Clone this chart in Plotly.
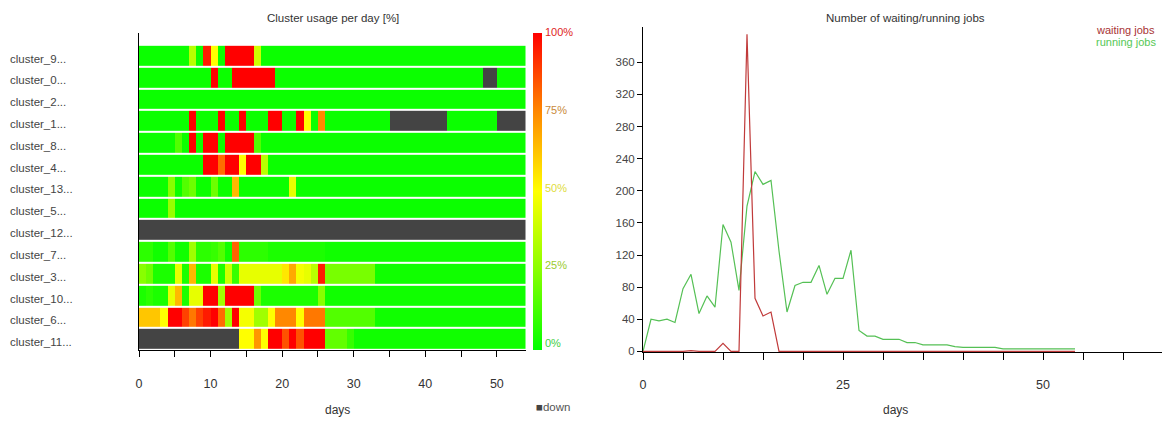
import plotly.graph_objects as go

# page body has an 8px margin; keep the figure inside the 1170x425 window
OFF = 8
W, H = 1170 - 2 * OFF, 425 - 2 * OFF
FONT = "Liberation Sans, Arial, sans-serif"

# ---------------- data ----------------
clusters = ["cluster_9...", "cluster_0...", "cluster_2...", "cluster_1...", "cluster_8...",
            "cluster_4...", "cluster_13...", "cluster_5...", "cluster_12...", "cluster_7...",
            "cluster_3...", "cluster_10...", "cluster_6...", "cluster_11..."]
N = None  # cluster down

days_heat = list(range(54))

usage_cluster_9 = [2, 2, 2, 2, 2, 2, 2, 35, 2, 95,
                   50, 2, 100, 100, 100, 100, 40, 2, 2, 2,
                   2, 2, 2, 2, 2, 2, 2, 2, 2, 2,
                   2, 2, 2, 2, 2, 2, 2, 2, 2, 2,
                   2, 2, 2, 2, 2, 2, 2, 2, 2, 2,
                   2, 2, 2, 2]
usage_cluster_0 = [2, 2, 2, 2, 2, 2, 2, 2, 2, 2,
                   100, 2, 2, 100, 100, 100, 100, 100, 100, 2,
                   2, 2, 2, 2, 2, 2, 2, 2, 2, 2,
                   2, 2, 2, 2, 2, 2, 2, 2, 2, 2,
                   2, 2, 2, 2, 2, 2, 2, 2, N, N,
                   2, 2, 2, 2]
usage_cluster_2 = [2, 2, 2, 2, 2, 2, 2, 2, 2, 2,
                   2, 2, 2, 2, 2, 2, 2, 2, 2, 2,
                   2, 2, 2, 2, 2, 2, 2, 2, 2, 2,
                   2, 2, 2, 2, 2, 2, 2, 2, 2, 2,
                   2, 2, 2, 2, 2, 2, 2, 2, 2, 2,
                   2, 2, 2, 2]
usage_cluster_1 = [2, 2, 2, 2, 2, 2, 2, 100, 2, 2,
                   2, 100, 2, 2, 100, 2, 2, 2, 100, 100,
                   2, 2, 100, 50, 2, 75, 2, 2, 2, 2,
                   2, 2, 2, 2, 2, N, N, N, N, N,
                   N, N, N, 2, 2, 2, 2, 2, 2, 2,
                   N, N, N, N]
usage_cluster_8 = [2, 2, 2, 2, 2, 15, 2, 100, 2, 100,
                   100, 2, 100, 100, 100, 100, 15, 2, 2, 2,
                   2, 2, 2, 2, 2, 2, 2, 2, 2, 2,
                   2, 2, 2, 2, 2, 2, 2, 2, 2, 2,
                   2, 2, 2, 2, 2, 2, 2, 2, 2, 2,
                   2, 2, 2, 2]
usage_cluster_4 = [2, 2, 2, 2, 2, 2, 2, 2, 2, 100,
                   100, 80, 100, 100, 50, 100, 100, 35, 2, 2,
                   2, 2, 2, 2, 2, 2, 2, 2, 2, 2,
                   2, 2, 2, 2, 2, 2, 2, 2, 2, 2,
                   2, 2, 2, 2, 2, 2, 2, 2, 2, 2,
                   2, 2, 2, 2]
usage_cluster_13 = [2, 2, 2, 2, 25, 2, 15, 20, 2, 2,
                    20, 2, 2, 65, 2, 2, 2, 2, 2, 2,
                    2, 45, 2, 2, 2, 2, 2, 2, 2, 2,
                    2, 2, 2, 2, 2, 2, 2, 2, 2, 2,
                    2, 2, 2, 2, 2, 2, 2, 2, 2, 2,
                    2, 2, 2, 2]
usage_cluster_5 = [2, 2, 2, 2, 28, 2, 2, 2, 2, 2,
                   2, 2, 2, 2, 2, 2, 2, 2, 2, 2,
                   2, 2, 2, 2, 2, 2, 2, 2, 2, 2,
                   2, 2, 2, 2, 2, 2, 2, 2, 2, 2,
                   2, 2, 2, 2, 2, 2, 2, 2, 2, 2,
                   2, 2, 2, 2]
usage_cluster_12 = [N, N, N, N, N, N, N, N, N, N,
                    N, N, N, N, N, N, N, N, N, N,
                    N, N, N, N, N, N, N, N, N, N,
                    N, N, N, N, N, N, N, N, N, N,
                    N, N, N, N, N, N, N, N, N, N,
                    N, N, N, N]
usage_cluster_7 = [8, 8, 3, 3, 15, 3, 3, 30, 8, 8,
                   10, 15, 3, 82, 8, 8, 8, 8, 5, 5,
                   5, 5, 5, 5, 5, 5, 3, 3, 3, 3,
                   3, 3, 3, 3, 3, 3, 3, 3, 3, 3,
                   3, 3, 3, 3, 3, 3, 3, 3, 3, 3,
                   3, 3, 3, 3]
usage_cluster_3 = [25, 20, 5, 5, 5, 45, 5, 65, 5, 5,
                   45, 5, 40, 10, 45, 45, 45, 45, 45, 45,
                   55, 68, 48, 45, 35, 95, 22, 22, 22, 22,
                   22, 22, 22, 3, 3, 3, 3, 3, 3, 3,
                   3, 3, 3, 3, 3, 3, 3, 3, 3, 3,
                   3, 3, 3, 3]
usage_cluster_10 = [5, 8, 5, 5, 45, 65, 5, 45, 45, 100,
                    100, 30, 100, 100, 100, 100, 20, 5, 5, 5,
                    5, 5, 5, 5, 5, 25, 3, 3, 3, 3,
                    3, 3, 3, 3, 3, 3, 3, 3, 3, 3,
                    3, 3, 3, 3, 3, 3, 3, 3, 3, 3,
                    3, 3, 3, 3]
usage_cluster_6 = [62, 62, 62, 50, 100, 100, 88, 78, 88, 95,
                   100, 80, 30, 100, 48, 48, 30, 30, 50, 75,
                   75, 75, 50, 78, 78, 78, 15, 15, 15, 15,
                   15, 15, 15, 3, 3, 3, 3, 3, 3, 3,
                   3, 3, 3, 3, 3, 3, 3, 3, 3, 3,
                   3, 3, 3, 3]
usage_cluster_11 = [N, N, N, N, N, N, N, N, N, N,
                    N, N, N, N, 50, 50, 72, 50, 100, 100,
                    85, 100, 85, 100, 100, 100, 18, 18, 18, 10,
                    3, 3, 3, 3, 3, 3, 3, 3, 3, 3,
                    3, 3, 3, 3, 3, 3, 3, 3, 3, 3,
                    3, 3, 3, 3]

usage_rows = [usage_cluster_9, usage_cluster_0, usage_cluster_2, usage_cluster_1,
              usage_cluster_8, usage_cluster_4, usage_cluster_13, usage_cluster_5,
              usage_cluster_12, usage_cluster_7, usage_cluster_3, usage_cluster_10,
              usage_cluster_6, usage_cluster_11]

days_line = list(range(55))
waiting_jobs = [0, 0, 0, 0, 0, 0, 1, 0, 0, 0,
                10, 0, 0, 395, 66, 44, 49, 0, 0, 0,
                0, 0, 0, 0, 0, 0, 0, 0, 0, 0,
                0, 0, 0, 0, 0, 0, 0, 0, 0, 0,
                0, 0, 0, 0, 0, 0, 0, 0, 0, 0,
                0, 0, 0, 0, 0]
running_jobs = [0, 40, 38, 40, 36, 78, 96, 47, 69, 55,
                158, 136, 76, 181, 224, 208, 213, 125, 49, 82,
                86, 86, 107, 71, 91, 91, 126, 26, 19, 19,
                15, 15, 15, 11, 11, 8, 8, 8, 8, 6,
                5, 5, 5, 5, 5, 3, 3, 3, 3, 3,
                3, 3, 3, 3, 3]

heat_xticks = list(range(0, 51, 5))
line_xticks = list(range(0, 65, 5))
line_yticks = list(range(0, 361, 40))
cbar_labels = ["100%", "75%", "50%", "25%", "0%"]
cbar_label_colors = ["#e02424", "#c98a3a", "#e0dc3a", "#9acb2f", "#3fcf3f"]


def px(x):
    return (x - OFF) / W


def py(y):
    return 1 - (y - OFF) / H


z_usage = [[v for v in row] for row in usage_rows]
z_down = [[1 if v is None else None for v in row] for row in usage_rows]
x_cells = [d + 0.5 for d in days_heat]

fig = go.Figure()

fig.add_trace(go.Heatmap(
    z=z_usage, x=x_cells, y=clusters, xaxis="x", yaxis="y",
    zmin=0, zmax=100, ygap=2, hoverongaps=False,
    colorscale=[[0.0, "#00ff00"], [0.25, "#88ff00"], [0.5, "#ffff00"],
                [0.75, "#ff8800"], [1.0, "#ff0000"]],
    colorbar=dict(x=px(533), xanchor="left", y=py(33), yanchor="top",
                  len=317, lenmode="pixels", thickness=9, thicknessmode="pixels",
                  outlinewidth=0, showticklabels=False, ticks="", xpad=0, ypad=0),
))
fig.add_trace(go.Heatmap(
    z=z_down, x=x_cells, y=clusters, xaxis="x", yaxis="y",
    zmin=0, zmax=1, ygap=2, showscale=False, hoverongaps=False,
    colorscale=[[0, "#444444"], [1, "#444444"]],
))

fig.add_trace(go.Scatter(
    x=days_line, y=running_jobs, mode="lines", xaxis="x2", yaxis="y2",
    line=dict(color="#55c055", width=1.2), showlegend=False, name="running jobs"))
fig.add_trace(go.Scatter(
    x=days_line, y=waiting_jobs, mode="lines", xaxis="x2", yaxis="y2",
    line=dict(color="#c03a3a", width=1.2), showlegend=False, name="waiting jobs"))

axis_font = dict(family=FONT, size=12.5, color="#333333")
x2_end = 1170 - OFF

fig.update_layout(
    width=W, height=H, margin=dict(l=0, r=0, t=0, b=0, autoexpand=False),
    paper_bgcolor="white", plot_bgcolor="white",
    font=dict(family=FONT, size=12, color="#333333"),
    xaxis=dict(domain=[px(139), px(525.5)], range=[0, 54], showgrid=False, zeroline=False,
               showline=True, linecolor="black", linewidth=1,
               tickvals=heat_xticks,
               ticktext=[str(t) if t % 10 == 0 else "" for t in heat_xticks],
               ticks="outside", ticklen=6, tickcolor="black", tickfont=axis_font,
               ticklabelstandoff=16),
    yaxis=dict(domain=[py(350), py(33)], range=[13.5, -1.04], showgrid=False, zeroline=False,
               showline=True, linecolor="black", linewidth=1, showticklabels=False, ticks=""),
    xaxis2=dict(domain=[px(643), 1.0], range=[0, (x2_end - 643) / 8.0], showgrid=False,
                zeroline=False, showline=True, linecolor="black", linewidth=1, anchor="y2",
                tickvals=line_xticks,
                ticktext=[str(t) if t % 25 == 0 else "" for t in line_xticks],
                ticks="outside", ticklen=7, tickcolor="black", tickfont=axis_font,
                ticklabelstandoff=14, layer="below traces"),
    yaxis2=dict(domain=[py(352), py(27)], range=[-0.8, 404], showgrid=False, zeroline=False,
                showline=True, linecolor="black", linewidth=1, anchor="x2",
                tickvals=line_yticks, ticks="outside", ticklen=5, tickcolor="black",
                tickfont=dict(family=FONT, size=11.5, color="#444444"), layer="below traces"),
)

ann = []
for name in clusters:
    ann.append(dict(x=px(8), xref="paper", y=name, yref="y", text=name, showarrow=False,
                    xanchor="left", yanchor="middle", yshift=-3,
                    font=dict(family=FONT, size=11.5, color="#444444")))
cb_y = [32, 110, 188, 265, 343]
for lab, col, yy in zip(cbar_labels, cbar_label_colors, cb_y):
    ann.append(dict(x=px(543), xref="paper", y=py(yy), yref="paper", text=lab, showarrow=False,
                    xanchor="left", yanchor="middle", font=dict(family=FONT, size=11, color=col)))
ann += [
    dict(x=px(333), y=py(18), xref="paper", yref="paper", text="Cluster usage per day [%]",
         showarrow=False, xanchor="center", yanchor="middle",
         font=dict(family=FONT, size=11.5, color="#333333")),
    dict(x=px(905), y=py(18), xref="paper", yref="paper", text="Number of waiting/running jobs",
         showarrow=False, xanchor="center", yanchor="middle",
         font=dict(family=FONT, size=11.5, color="#333333")),
    dict(x=px(337), y=py(410), xref="paper", yref="paper", text="days", showarrow=False,
         xanchor="center", yanchor="middle", font=dict(family=FONT, size=12, color="#333333")),
    dict(x=px(895), y=py(410), xref="paper", yref="paper", text="days", showarrow=False,
         xanchor="center", yanchor="middle", font=dict(family=FONT, size=12, color="#333333")),
    dict(x=px(534), y=py(407), xref="paper", yref="paper",
         text="<span style='color:#444444'>■</span>down", showarrow=False,
         xanchor="left", yanchor="middle", font=dict(family=FONT, size=11.5, color="#555555")),
    dict(x=px(1094), y=py(30), xref="paper", yref="paper", text="waiting jobs", showarrow=False,
         xanchor="left", yanchor="middle", font=dict(family=FONT, size=11, color="#a83434")),
    dict(x=px(1094), y=py(42), xref="paper", yref="paper", text="running jobs", showarrow=False,
         xanchor="left", yanchor="middle", font=dict(family=FONT, size=11, color="#55c855")),
]
fig.update_layout(annotations=ann)

fig.write_html("out.html")
